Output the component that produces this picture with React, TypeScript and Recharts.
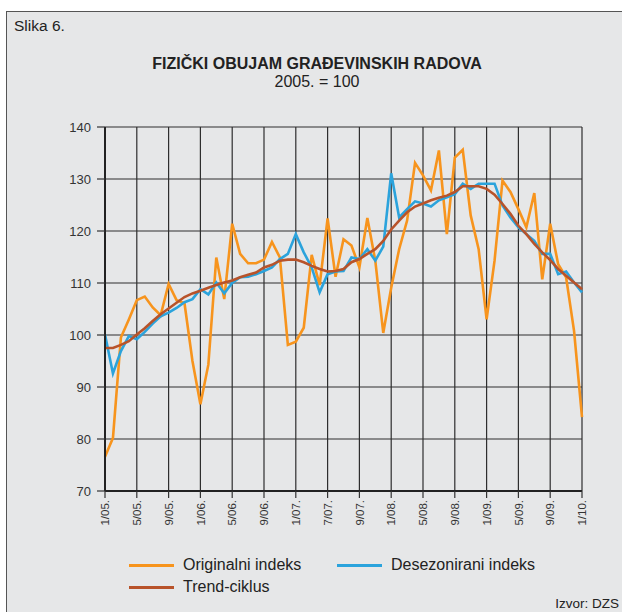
import { LineChart, Line, XAxis, YAxis, CartesianGrid } from 'recharts'

// monthly values, 1/05. .. 1/10. (61 months)
const originalni = [
  76.6, 80.2, 99.5, 103, 106.7, 107.4, 105.3, 103.8, 109.8, 106.7,
  106.1, 95, 86.7, 94.3, 114.9, 106.9, 121.4, 115.6, 113.8, 113.8,
  114.5, 117.9, 114.9, 98.1, 98.7, 101.4, 115.4, 109.6, 122.4, 111.2,
  118.4, 117.2, 113, 122.5, 114.3, 100.4, 109.1, 116.5, 122, 133.1,
  130.7, 127.8, 135.5, 119.4, 134.1, 135.6, 123, 116.5, 103, 114.3,
  129.7, 127.5, 124.2, 120.7, 127.3, 110.7, 121.4, 113.6, 111.1, 100.8,
  84.2,
]
const desezonirani = [
  100.1, 92.6, 96.9, 99.8, 99.2, 100.6, 102.2, 103.6, 104.3, 105.2,
  106.3, 106.9, 108.8, 107.8, 110.1, 108, 110, 111.1, 111.2, 111.7,
  112.3, 113, 114.6, 115.6, 119.4, 115.9, 113, 108.2, 111.7, 112.2,
  112.3, 114.9, 114.6, 116.5, 114.3, 117, 131.1, 122.6, 124.2, 125.7,
  125.3, 124.7, 125.9, 126.5, 127.1, 129.1, 128.1, 129.1, 129.1, 129.1,
  124.9, 122.6, 120.7, 119.4, 118.1, 115.6, 115.6, 111.7, 112.2, 110.1,
  108.2,
]
const trendCiklus = [
  97.5, 97.5, 98.1, 98.8, 100.1, 101.3, 102.7, 104, 105.1, 106.2,
  107.3, 108, 108.5, 109.1, 109.6, 110.1, 110.5, 111.1, 111.6, 112,
  113, 113.5, 114.3, 114.5, 114.5, 114, 113.3, 112.7, 112.2, 112.3,
  112.7, 114, 114.6, 115.6, 116.5, 118.1, 120.3, 122, 123.6, 124.7,
  125.3, 125.9, 126.4, 126.8, 127.5, 128.6, 128.6, 128.6, 128.1, 127,
  125.2, 123.3, 121, 119.4, 117.5, 115.9, 114.4, 112.7, 111.4, 110.1,
  108.8,
]
const xTickLabels = [
  '1/05.', '5/05.', '9/05.', '1/06.', '5/06.', '9/06.', '1/07.', '7/07.',
  '9/07.', '1/08.', '5/08.', '9/08.', '1/09.', '5/09.', '9/09.', '1/10.',
]
const yTicks = [70, 80, 90, 100, 110, 120, 130, 140]

const font = 'Arial, "Liberation Sans", sans-serif'
const ORANGE = '#f7941d'
const BLUE = '#2ba3dc'
const BROWN = '#b8532a'

const data = originalni.map((v, i) => ({
  m: i,
  orig: v,
  desez: desezonirani[i],
  trend: trendCiklus[i],
}))
const xTicks = xTickLabels.map((_, i) => i * 4)

const XTick = (props: any) => {
  const { x, y, payload } = props
  return (
    <text
      x={x}
      y={y}
      transform={`rotate(-90 ${x} ${y})`}
      textAnchor="end"
      dy="0.36em"
      fontSize={11.5}
      fontFamily={font}
      fill="#333"
    >
      {xTickLabels[payload.value / 4]}
    </text>
  )
}

const legendItem = (color: string, label: string, left: number, top: number) => (
  <div style={{ position: 'absolute', left, top, display: 'flex', alignItems: 'center' }}>
    <div style={{ width: 45, height: 3, background: color, marginRight: 9 }} />
    <span style={{ fontSize: 16, color: '#222' }}>{label}</span>
  </div>
)

export default function App() {
  return (
    <div style={{ position: 'absolute', left: 0, top: 0, width: 622, height: 612, background: '#fff', overflow: 'hidden', fontFamily: font }}>
      <div style={{ position: 'absolute', left: 6, top: 11, width: 630, height: 620, background: '#e6e7e8', border: '1px solid #555' }} />
      <div style={{ position: 'absolute', left: 14, top: 17, fontSize: 15.5, color: '#222' }}>Slika 6.</div>
      <div style={{ position: 'absolute', left: 0, width: 634, top: 55, textAlign: 'center', color: '#222' }}>
        <div style={{ fontSize: 16, fontWeight: 'bold', lineHeight: '18px' }}>FIZIČKI OBUJAM GRAĐEVINSKIH RADOVA</div>
        <div style={{ fontSize: 16, lineHeight: '17px' }}>2005. = 100</div>
      </div>
      <LineChart
        width={622}
        height={612}
        data={data}
        margin={{ top: 127, right: 40, left: 45, bottom: 71 }}
        style={{ position: 'absolute', left: 0, top: 0 }}
      >
        <CartesianGrid stroke="#2e2e2e" strokeWidth={1.2} />
        <XAxis
          dataKey="m"
          type="number"
          domain={[0, 60]}
          ticks={xTicks}
          interval={0}
          height={50}
          tickSize={7}
          tick={<XTick />}
          tickLine={{ stroke: '#333', strokeWidth: 1.2 }}
          axisLine={{ stroke: '#222', strokeWidth: 2.2 }}
        />
        <YAxis
          type="number"
          domain={[70, 140]}
          ticks={yTicks}
          interval={0}
          width={60}
          tickSize={8}
          tickMargin={6}
          tick={{ fontSize: 13, fill: '#333', fontFamily: font }}
          tickLine={{ stroke: '#333', strokeWidth: 1.2 }}
          axisLine={{ stroke: '#222', strokeWidth: 2 }}
        />
        <Line type="linear" dataKey="orig" stroke={ORANGE} strokeWidth={2.6} dot={false} isAnimationActive={false} />
        <Line type="linear" dataKey="desez" stroke={BLUE} strokeWidth={2.6} dot={false} isAnimationActive={false} />
        <Line type="linear" dataKey="trend" stroke={BROWN} strokeWidth={2.6} dot={false} isAnimationActive={false} />
      </LineChart>
      {legendItem(ORANGE, 'Originalni indeks', 129, 556)}
      {legendItem(BLUE, 'Desezonirani indeks', 337, 556)}
      {legendItem(BROWN, 'Trend-ciklus', 129, 578)}
      <div style={{ position: 'absolute', right: 3, top: 596, fontSize: 13.5, color: '#222' }}>Izvor: DZS</div>
    </div>
  )
}
